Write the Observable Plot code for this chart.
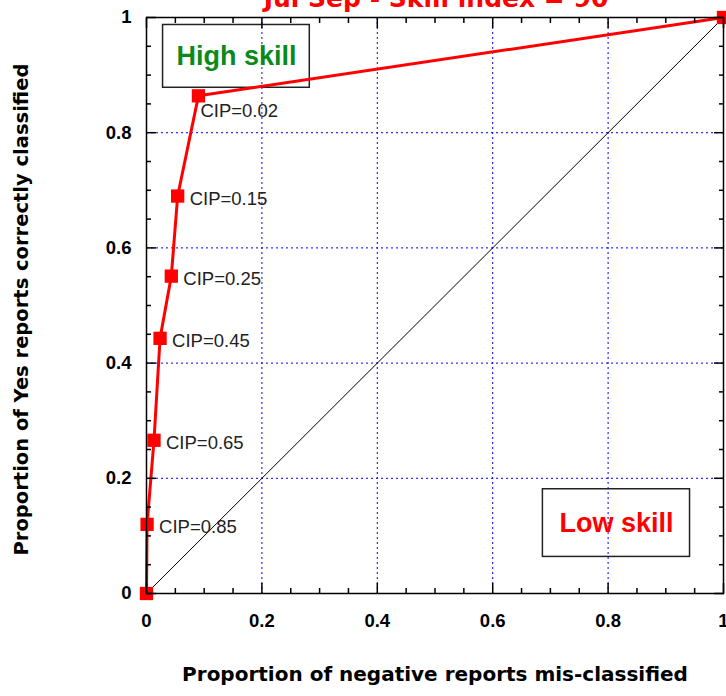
<!DOCTYPE html>
<html>
<head>
<meta charset="utf-8">
<script src="https://cdn.jsdelivr.net/npm/d3@7"></script>
<script src="https://cdn.jsdelivr.net/npm/@observablehq/plot@0.6"></script>
<style>
  body { margin: 0; background: #fff; }
  #chart svg { display: block; }
</style>
</head>
<body>
<div id="chart"></div>
<script>
// ---- data ----
const titleText = "Jul Sep - Skill index = 90";
const xLabel = "Proportion of negative reports mis-classified";
const yLabel = "Proportion of Yes reports correctly classified";

const falseAlarm = [0, 0.001, 0.013, 0.0235, 0.043, 0.054, 0.090, 1];
const hitRate    = [0, 0.120, 0.266, 0.443, 0.551, 0.690, 0.864, 1];
const cipLabels  = ["", "CIP=0.85", "CIP=0.65", "CIP=0.45", "CIP=0.25", "CIP=0.15", "CIP=0.02", ""];

const majorTicks = [0, 0.2, 0.4, 0.6, 0.8, 1];
const tickLabels = ["0", "0.2", "0.4", "0.6", "0.8", "1"];
const minorTicks = [0.05, 0.1, 0.15, 0.25, 0.3, 0.35, 0.45, 0.5, 0.55, 0.65, 0.7, 0.75, 0.85, 0.9, 0.95];
const gridValues = [0.2, 0.4, 0.6, 0.8];
const diagonal = [0, 1];

const boxNames = ["High skill", "Low skill"];
const boxX1 = [0.0287, 0.687];
const boxX2 = [0.283, 0.942];
const boxY1 = [0.878, 0.0635];
const boxY2 = [0.987, 0.181];

// ---- derived tables ----
const points = falseAlarm.map((x, i) => ({x, y: hitRate[i], label: cipLabels[i]}));
const boxes = boxNames.map((name, i) => ({name, x1: boxX1[i], x2: boxX2[i], y1: boxY1[i], y2: boxY2[i]}));
const fmt = d => tickLabels[majorTicks.indexOf(d)];

const titleFont = "DejaVu Sans, sans-serif";
const tickStyle = {stroke: "black", strokeWidth: 1.5, fill: "none", label: null};

const chart = Plot.plot({
  width: 726,
  height: 696,
  marginLeft: 146,
  marginRight: 3,
  marginTop: 17,
  marginBottom: 103,
  style: {fontFamily: "Liberation Sans, Arial, sans-serif", background: "white", color: "black"},
  x: {domain: [0, 1]},
  y: {domain: [0, 1]},
  marks: [
    Plot.rect(boxes, {x1: "x1", x2: "x2", y1: "y1", y2: "y2", fill: "white", stroke: "#222", strokeWidth: 1.5}),
    Plot.gridX(gridValues, {stroke: "#0000ff", strokeOpacity: 1, strokeWidth: 1, strokeDasharray: "2,3"}),
    Plot.gridY(gridValues, {stroke: "#0000ff", strokeOpacity: 1, strokeWidth: 1, strokeDasharray: "2,3"}),
    Plot.line(diagonal, {x: d => d, y: d => d, stroke: "black", strokeWidth: 1}),
    Plot.line(points, {x: "x", y: "y", stroke: "#ff0000", strokeWidth: 3}),
    Plot.dot(points, {x: "x", y: "y", symbol: "square", r: 7.5, fill: "#ff0000", stroke: "none"}),
    Plot.text(points.filter(d => d.label && d.label !== "CIP=0.02"), {
      x: "x", y: "y", text: "label", textAnchor: "start", dx: 12, dy: 3,
      fontSize: 18.5, fill: "#222"
    }),
    Plot.text(points.filter(d => d.label === "CIP=0.02"), {
      x: "x", y: "y", text: "label", textAnchor: "start", dx: 2, dy: 15,
      fontSize: 18.5, fill: "#222"
    }),
    Plot.text(boxes.filter(d => d.name === "High skill"), {
      x: d => (d.x1 + d.x2) / 2, y: d => (d.y1 + d.y2) / 2, text: "name",
      fontSize: 27, fontWeight: "bold", fill: "#0a8a1a"
    }),
    Plot.text(boxes.filter(d => d.name === "Low skill"), {
      x: d => (d.x1 + d.x2) / 2, y: d => (d.y1 + d.y2) / 2, text: "name",
      fontSize: 27, fontWeight: "bold", fill: "#ff0000"
    }),
    Plot.frame({stroke: "black", strokeWidth: 1.5}),
    // inward ticks on all four sides
    Plot.axisX(minorTicks, {anchor: "bottom", tickSize: -5, ...tickStyle}),
    Plot.axisX(majorTicks, {anchor: "bottom", tickSize: -10, ...tickStyle}),
    Plot.axisX(minorTicks, {anchor: "top", tickSize: -5, ...tickStyle}),
    Plot.axisX(majorTicks, {anchor: "top", tickSize: -10, ...tickStyle}),
    Plot.axisY(minorTicks, {anchor: "left", tickSize: -5, ...tickStyle}),
    Plot.axisY(majorTicks, {anchor: "left", tickSize: -10, ...tickStyle}),
    Plot.axisY(minorTicks, {anchor: "right", tickSize: -5, ...tickStyle}),
    Plot.axisY(majorTicks, {anchor: "right", tickSize: -10, ...tickStyle}),
    // tick labels
    Plot.axisX(majorTicks, {anchor: "bottom", tickSize: 0, tickPadding: 20, tickFormat: fmt,
      fontSize: 18.5, fontWeight: "bold", fill: "black", label: null}),
    Plot.axisY(majorTicks, {anchor: "left", tickSize: 0, tickPadding: 15, tickFormat: fmt,
      fontSize: 18.5, fontWeight: "bold", fill: "black", label: null}),
    // axis titles
    Plot.text([xLabel], {frameAnchor: "bottom", text: d => d, dy: 87.5, fontSize: 20,
      fontWeight: "bold", fontFamily: titleFont, fill: "black"}),
    Plot.text([yLabel], {frameAnchor: "left", text: d => d, textAnchor: "middle", rotate: -90,
      dx: -124.5, dy: 4, fontSize: 19.5, fontWeight: "bold", fontFamily: titleFont, fill: "black"}),
    // title (mostly cut off at the top edge, as in the reference)
    Plot.text([titleText], {frameAnchor: "top", text: d => d, lineAnchor: "bottom", dy: -10.5, dx: 1,
      fontSize: 25, fontWeight: "bold", fontFamily: titleFont, fill: "#ff0000"})
  ]
});

document.getElementById("chart").append(chart);
</script>
</body>
</html>
